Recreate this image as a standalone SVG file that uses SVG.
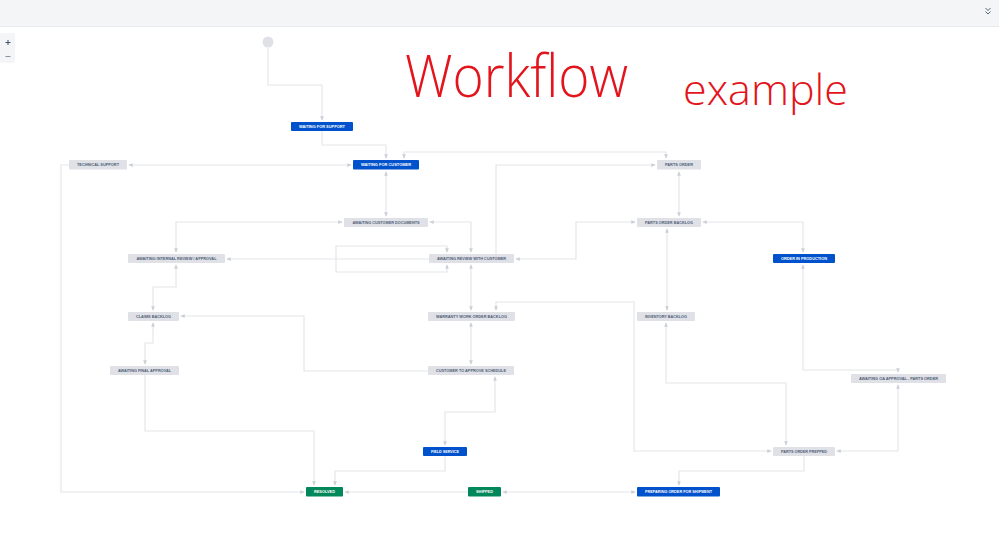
<svg xmlns="http://www.w3.org/2000/svg" width="999" height="548" viewBox="0 0 999 548">
<defs>
<style>
.bar{fill:#f4f5f7}
.e{fill:none;stroke:#e4e6ea;stroke-width:1.2}
.g rect{fill:#dfe1e6}
.b rect{fill:#0052cc}
.s rect{fill:#00875a}
.n text{font-family:"Liberation Sans",Arial,sans-serif;font-size:4.3px;font-weight:bold;text-anchor:middle;dominant-baseline:central}
.g text{fill:#505f79}
.b text,.s text{fill:#ffffff}
.hw{font-family:"Open Sans","Liberation Sans",sans-serif;font-weight:300;fill:#e3141b}
</style>
<marker id="a" viewBox="0 0 6 6" refX="5" refY="3" markerWidth="4.5" markerHeight="4.5" markerUnits="userSpaceOnUse" orient="auto-start-reverse">
<path d="M0,0.5 L6,3 L0,5.5 Z" fill="#cbd0d8"/>
</marker>
</defs>
<rect width="999" height="548" fill="#ffffff"/>
<rect class="bar" x="0" y="0" width="999" height="26"/>
<line x1="0" y1="26.5" x2="999" y2="26.5" stroke="#e8eaed"/>
<path d="M985.5,8 L988,10.5 L990.5,8 M985.5,11.5 L988,14 L990.5,11.5" fill="none" stroke="#42526e" stroke-width="0.9"/>
<rect class="bar" x="0" y="33" width="15" height="30" rx="2"/>
<path d="M5.5,42.5 H10.5 M8,40 V45" stroke="#42526e" stroke-width="1"/>
<path d="M5.5,56.5 H10.5" stroke="#8993a4" stroke-width="1"/>

<text class="hw" x="405" y="97" font-size="58" textLength="223" lengthAdjust="spacingAndGlyphs">Workflow</text>
<text class="hw" x="683" y="105" font-size="42" textLength="165" lengthAdjust="spacingAndGlyphs">example</text>

<g id="connectors">
<polyline class="e" points="268,48 268,85 322,85 322,120" marker-end="url(#a)"/>
<polyline class="e" points="322,131 322,145 386,145 386,158" marker-end="url(#a)"/>
<polyline class="e" points="129,165 351,165" marker-start="url(#a)" marker-end="url(#a)"/>
<polyline class="e" points="404,158 404,152 666,152 666,158" marker-start="url(#a)" marker-end="url(#a)"/>
<polyline class="e" points="496,254 496,165 655,165" marker-end="url(#a)"/>
<polyline class="e" points="679,172 679,216" marker-start="url(#a)" marker-end="url(#a)"/>
<polyline class="e" points="386,172 386,216" marker-start="url(#a)" marker-end="url(#a)"/>
<polyline class="e" points="342,222 176,222 176,252" marker-start="url(#a)" marker-end="url(#a)"/>
<polyline class="e" points="430,222 471,222 471,252" marker-start="url(#a)" marker-end="url(#a)"/>
<polyline class="e" points="429,259 227,259" marker-end="url(#a)"/>
<polyline class="e" points="447,265 447,272 336,272 336,246 447,246 447,252" marker-start="url(#a)" marker-end="url(#a)"/>
<polyline class="e" points="635,222 576,222 576,259 516,259" marker-start="url(#a)" marker-end="url(#a)"/>
<polyline class="e" points="703,222 803,222 803,252" marker-start="url(#a)" marker-end="url(#a)"/>
<polyline class="e" points="667,229 667,310" marker-start="url(#a)" marker-end="url(#a)"/>
<polyline class="e" points="803,265 803,370 898,370 898,372" marker-start="url(#a)" marker-end="url(#a)"/>
<polyline class="e" points="898,385 898,451 837,451" marker-start="url(#a)" marker-end="url(#a)"/>
<polyline class="e" points="471,265 471,310" marker-start="url(#a)" marker-end="url(#a)"/>
<polyline class="e" points="496,310 496,302 634,302 634,451 771,451" marker-start="url(#a)" marker-end="url(#a)"/>
<polyline class="e" points="666,323 666,383 786,383 786,445" marker-start="url(#a)" marker-end="url(#a)"/>
<polyline class="e" points="176,265 176,287 153,287 153,310" marker-start="url(#a)" marker-end="url(#a)"/>
<polyline class="e" points="153,323 153,343 145,343 145,364" marker-start="url(#a)" marker-end="url(#a)"/>
<polyline class="e" points="428,371 304,371 304,316 181,316" marker-end="url(#a)"/>
<polyline class="e" points="471,323 471,364" marker-start="url(#a)" marker-end="url(#a)"/>
<polyline class="e" points="495,377 495,412 445,412 445,445" marker-start="url(#a)" marker-end="url(#a)"/>
<polyline class="e" points="445,456 445,471 335,471 335,485" marker-end="url(#a)"/>
<polyline class="e" points="145,375 145,431 314,431 314,485" marker-end="url(#a)"/>
<polyline class="e" points="69,165 61,165 61,492 304,492" marker-end="url(#a)"/>
<polyline class="e" points="468,492 345,492" marker-end="url(#a)"/>
<polyline class="e" points="503,492 635,492" marker-start="url(#a)" marker-end="url(#a)"/>
<polyline class="e" points="804,456 804,471 679,471 679,485" marker-end="url(#a)"/>
</g>

<g id="start"><circle cx="268" cy="42" r="5.5" fill="#dfe1e6"/></g>
<g id="waiting-for-support" class="n b"><rect x="291" y="122" width="62" height="9" rx="1"/><text x="322" y="126.6" textLength="46" lengthAdjust="spacingAndGlyphs">WAITING FOR SUPPORT</text></g>
<g id="waiting-for-customer" class="n b"><rect x="353" y="160" width="66" height="9.5" rx="1"/><text x="386" y="164.8" textLength="50" lengthAdjust="spacingAndGlyphs">WAITING FOR CUSTOMER</text></g>
<g id="technical-support" class="n g"><rect x="69" y="160" width="58" height="9.5" rx="1"/><text x="98" y="164.8" textLength="42" lengthAdjust="spacingAndGlyphs">TECHNICAL SUPPORT</text></g>
<g id="parts-order" class="n g"><rect x="657" y="160" width="44" height="9.5" rx="1"/><text x="679" y="164.8" textLength="28" lengthAdjust="spacingAndGlyphs">PARTS ORDER</text></g>
<g id="awaiting-customer-documents" class="n g"><rect x="344" y="218" width="84" height="9" rx="1"/><text x="386" y="222.6" textLength="67" lengthAdjust="spacingAndGlyphs">AWAITING CUSTOMER DOCUMENTS</text></g>
<g id="parts-order-backlog" class="n g"><rect x="637" y="218" width="64" height="9" rx="1"/><text x="669" y="222.6" textLength="48" lengthAdjust="spacingAndGlyphs">PARTS ORDER BACKLOG</text></g>
<g id="awaiting-internal-review" class="n g"><rect x="128" y="254" width="97" height="9" rx="1"/><text x="176.5" y="258.6" textLength="80" lengthAdjust="spacingAndGlyphs">AWAITING INTERNAL REVIEW / APPROVAL</text></g>
<g id="awaiting-review-with-customer" class="n g"><rect x="429" y="254" width="85" height="9" rx="1"/><text x="471.5" y="258.6" textLength="69" lengthAdjust="spacingAndGlyphs">AWAITING REVIEW WITH CUSTOMER</text></g>
<g id="order-in-production" class="n b"><rect x="773" y="254" width="62" height="9" rx="1"/><text x="804" y="258.6" textLength="46" lengthAdjust="spacingAndGlyphs">ORDER IN PRODUCTION</text></g>
<g id="claims-backlog" class="n g"><rect x="128" y="312" width="51" height="9" rx="1"/><text x="153.5" y="316.6" textLength="35" lengthAdjust="spacingAndGlyphs">CLAIMS BACKLOG</text></g>
<g id="warranty-work-order-backlog" class="n g"><rect x="428" y="312" width="87" height="9" rx="1"/><text x="471.5" y="316.6" textLength="71" lengthAdjust="spacingAndGlyphs">WARRANTY WORK ORDER BACKLOG</text></g>
<g id="inventory-backlog" class="n g"><rect x="637" y="312" width="58" height="9" rx="1"/><text x="666" y="316.6" textLength="42" lengthAdjust="spacingAndGlyphs">INVENTORY BACKLOG</text></g>
<g id="awaiting-final-approval" class="n g"><rect x="110" y="366" width="69" height="9" rx="1"/><text x="144.5" y="370.6" textLength="53" lengthAdjust="spacingAndGlyphs">AWAITING FINAL APPROVAL</text></g>
<g id="customer-to-approve-schedule" class="n g"><rect x="428" y="366" width="86" height="9" rx="1"/><text x="471" y="370.6" textLength="70" lengthAdjust="spacingAndGlyphs">CUSTOMER TO APPROVE SCHEDULE</text></g>
<g id="awaiting-oa-approval" class="n g"><rect x="851" y="374" width="95" height="9" rx="1"/><text x="898.5" y="378.6" textLength="79" lengthAdjust="spacingAndGlyphs">AWAITING OA APPROVAL - PARTS ORDER</text></g>
<g id="field-service" class="n b"><rect x="423" y="447" width="44" height="9" rx="1"/><text x="445" y="451.6" textLength="28" lengthAdjust="spacingAndGlyphs">FIELD SERVICE</text></g>
<g id="parts-order-prepped" class="n g"><rect x="773" y="447" width="62" height="9" rx="1"/><text x="804" y="451.6" textLength="46" lengthAdjust="spacingAndGlyphs">PARTS ORDER PREPPED</text></g>
<g id="resolved" class="n s"><rect x="306" y="487" width="37" height="9.5" rx="1"/><text x="324.5" y="491.8" textLength="21" lengthAdjust="spacingAndGlyphs">RESOLVED</text></g>
<g id="shipped" class="n s"><rect x="468" y="487" width="33" height="9.5" rx="1"/><text x="484.5" y="491.8" textLength="17" lengthAdjust="spacingAndGlyphs">SHIPPED</text></g>
<g id="preparing-order-for-shipment" class="n b"><rect x="637" y="487" width="83" height="9.5" rx="1"/><text x="678.5" y="491.8" textLength="67" lengthAdjust="spacingAndGlyphs">PREPARING ORDER FOR SHIPMENT</text></g>
</svg>
